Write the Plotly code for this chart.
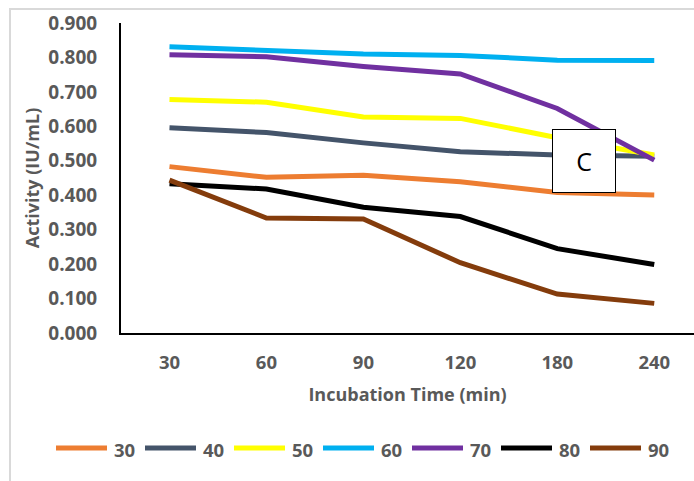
import plotly.graph_objects as go

# Incubation times (x categories) and activity per incubation temperature
times = ["30", "60", "90", "120", "180", "240"]
temps = ["30", "40", "50", "60", "70", "80", "90"]
act_30 = [0.483, 0.452, 0.458, 0.439, 0.408, 0.401]
act_40 = [0.596, 0.582, 0.552, 0.526, 0.517, 0.513]
act_50 = [0.678, 0.670, 0.627, 0.623, 0.567, 0.517]
act_60 = [0.831, 0.822, 0.810, 0.806, 0.792, 0.791]
act_70 = [0.808, 0.802, 0.774, 0.752, 0.652, 0.502]
act_80 = [0.433, 0.418, 0.365, 0.338, 0.245, 0.199]
act_90 = [0.444, 0.334, 0.331, 0.204, 0.113, 0.086]
series = [act_30, act_40, act_50, act_60, act_70, act_80, act_90]
colors = ["#ED7D31", "#44546A", "#FFFF00", "#00B0F0", "#7030A0", "#000000", "#843C0C"]
y_ticks = [0.0, 0.1, 0.2, 0.3, 0.4, 0.5, 0.6, 0.7, 0.8, 0.9]

W, H = 694, 481
ML, MR, MT, MB = 121, 0, 23, 148
PW, PH = W - ML - MR, H - MT - MB


def px_x(px):
    return (px - ML) / PW


def px_y(py):
    return (H - MB - py) / PH


FONT = "Open Sans"
GREY = "#595959"

fig = go.Figure()
for name, vals, col in zip(temps, series, colors):
    fig.add_trace(go.Scatter(
        x=times, y=vals, name=name, mode="lines",
        line=dict(color=col, width=5), showlegend=False,
    ))

shapes = [
    # outer chart frame
    dict(type="rect", xref="paper", yref="paper",
         x0=px_x(10), x1=px_x(760), y0=px_y(560), y1=px_y(9),
         line=dict(color="#D9D9D9", width=2), fillcolor="rgba(0,0,0,0)",
         layer="below"),
]
annotations = [
    dict(text="C", xref="paper", yref="paper", x=px_x(584), y=px_y(161),
         xanchor="center", yanchor="middle", showarrow=False,
         width=62, height=62, borderpad=0, bgcolor="white",
         bordercolor="black", borderwidth=1,
         font=dict(family=FONT, size=25, color="black")),
]

# legend row below the axis title
leg_y = 448
for i, (name, col) in enumerate(zip(temps, colors)):
    x0 = 56 + 89 * i
    shapes.append(dict(type="line", xref="paper", yref="paper",
                       x0=px_x(x0), x1=px_x(x0 + 51), y0=px_y(leg_y), y1=px_y(leg_y),
                       line=dict(color=col, width=5)))
    annotations.append(dict(text=name, xref="paper", yref="paper",
                            x=px_x(x0 + 56), y=px_y(leg_y + 1),
                            xanchor="left", yanchor="middle", showarrow=False,
                            font=dict(family=FONT, size=18.5, color=GREY, weight="bold")))

fig.update_layout(
    width=W, height=H,
    margin=dict(l=ML, r=MR, t=MT, b=MB),
    paper_bgcolor="white", plot_bgcolor="white",
    font=dict(family=FONT, color=GREY),
    shapes=shapes, annotations=annotations,
    xaxis=dict(
        type="category", categoryorder="array", categoryarray=times,
        range=[-0.5, 5.41], showgrid=False, zeroline=False,
        showline=True, linecolor="black", linewidth=2,
        ticks="", ticklabelstandoff=12,
        tickfont=dict(family=FONT, size=18.5, color=GREY, weight="bold"),
        title=dict(text="Incubation Time (min)", standoff=15,
                   font=dict(family=FONT, size=18, color=GREY, weight="bold")),
    ),
    yaxis=dict(
        range=[0, 0.9], tickvals=y_ticks, tickformat=".3f",
        showgrid=False, zeroline=False,
        showline=True, linecolor="black", linewidth=2,
        ticks="", ticklabelstandoff=18,
        tickfont=dict(family=FONT, size=19, color=GREY, weight="bold"),
        title=dict(text="Activity (IU/mL)", standoff=4,
                   font=dict(family=FONT, size=18, color=GREY, weight="bold")),
    ),
)

fig.write_html("out.html")
